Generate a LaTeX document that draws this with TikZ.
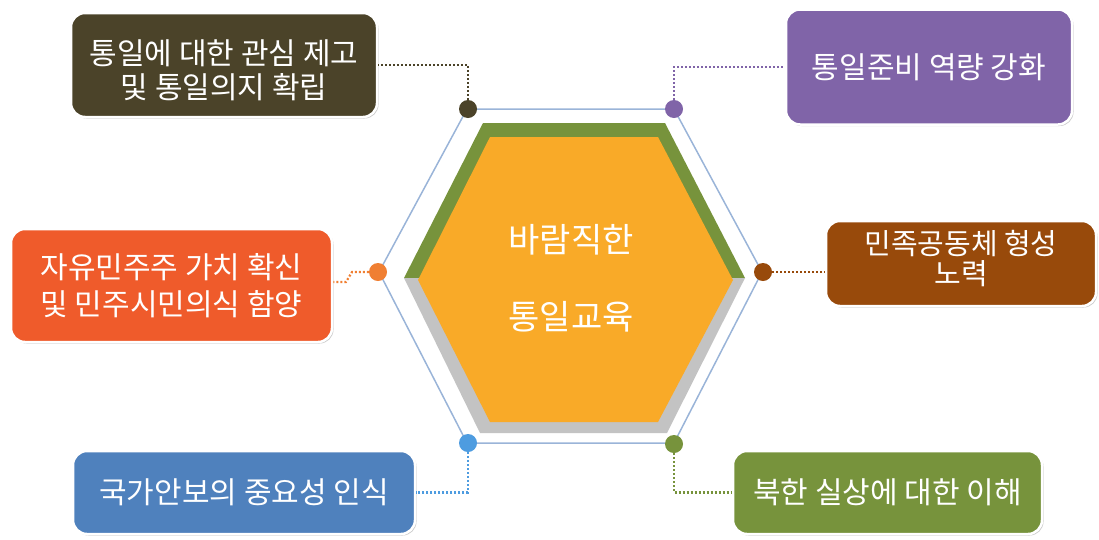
\documentclass[tikz,border=0pt]{standalone}
\usepackage{fontspec}
\setmainfont{Noto Sans CJK KR}
\usetikzlibrary{shadows}
\definecolor{cOlive}{HTML}{4B4329}
\definecolor{cPurple}{HTML}{8064A8}
\definecolor{cRed}{HTML}{EF5B2B}
\definecolor{cBrown}{HTML}{984A0B}
\definecolor{cBlue}{HTML}{4F81BD}
\definecolor{cGreen}{HTML}{77933C}
\definecolor{cDotOrange}{HTML}{F07F32}
\definecolor{cDotBlue}{HTML}{4E9CE0}
\definecolor{cHexLine}{HTML}{9AB4D8}
\definecolor{cHexOrange}{HTML}{F9AA28}
\definecolor{cHexGray}{HTML}{C3C3C3}
\tikzset{
  box/.style={rectangle, rounded corners=14pt, draw=white, line width=2.5pt,
    text=white, align=center, inner sep=0pt, font=\fontsize{30}{33}\selectfont,
    drop shadow={shadow xshift=1.5pt, shadow yshift=-1.5pt, opacity=0.35, fill=black!60}},
  boxtext/.style={text=white, align=center, inner sep=0pt, font=\fontsize{30}{33}\selectfont},
  dotnode/.style={circle, inner sep=0pt, minimum size=18pt},
  conn/.style={line width=2.2pt, dash pattern=on 2pt off 2pt},
  hextext/.style={text=white, font=\fontsize{34}{38}\selectfont}
}
\begin{document}
\begin{tikzpicture}[x=1pt,y=-1pt]
\useasboundingbox (0,0) rectangle (1099,539);

% outer thin hexagon
\draw[cHexLine, line width=1.5pt] (467,109) -- (674,109) -- (762,272) -- (674,443) -- (467,443) -- (379,272) -- cycle;
% frame halves
\fill[cGreen] (483,123) -- (665,123) -- (745,278) -- (404,278) -- cycle;
\fill[cHexGray] (404,278) -- (745,278) -- (667,433) -- (480,433) -- cycle;
% orange core
\fill[cHexOrange] (490,137) -- (658,137) -- (733,280) -- (658,422) -- (490,422) -- (418,280) -- cycle;
\node[hextext] (t1) at (571,240) {바람직한};
\node[hextext] (t2) at (571,317) {통일교육};

% boxes
\node[box, fill=cOlive, minimum width=306pt, minimum height=104pt] (b1) at (224,65) {};
\node[boxtext, font=\fontsize{30}{34}\selectfont] (b1t) at (224,70) {통일에 대한 관심 제고\\및 통일의지 확립};
\node[box, fill=cPurple, minimum width=286pt, minimum height=115pt] (b2) at (929,67) {통일준비 역량 강화};
\node[box, fill=cRed, minimum width=321pt, minimum height=113pt, font=\fontsize{30}{37}\selectfont] (b3) at (171.5,285.5) {자유민주주 가치 확신\\및 민주시민의식 함양};
\node[box, fill=cBrown, minimum width=270pt, minimum height=85pt] (b4) at (961,263.5) {};
\node[boxtext, font=\fontsize{29}{30}\selectfont] (b4t) at (961,259) {민족공동체 형성\\노력};
\node[box, fill=cBlue, minimum width=342pt, minimum height=83pt] (b5) at (244,492.5) {국가안보의 중요성 인식};
\node[box, fill=cGreen, minimum width=309pt, minimum height=83pt] (b6) at (887.5,492.5) {북한 실상에 대한 이해};

% dots
\node[dotnode, fill=cOlive] (d1) at (468,109) {};
\node[dotnode, fill=cPurple] (d2) at (674,109) {};
\node[dotnode, fill=cDotOrange] (d3) at (378,272) {};
\node[dotnode, fill=cBrown] (d4) at (763,272) {};
\node[dotnode, fill=cDotBlue] (d5) at (468,443) {};
\node[dotnode, fill=cGreen] (d6) at (674,444) {};

% connectors
\coordinate (k3a) at (352,272);
\coordinate (k3b) at (346,282);
\draw[conn, cOlive] (d1.north) |- (b1.east);
\draw[conn, cPurple] (d2.north) |- (b2.west);
\draw[conn, cDotOrange] (d3.west) -- (k3a) -- (k3b) -- (k3b -| b3.east);
\draw[conn, cBrown] (d4.east) -- (d4 -| b4.west);
\draw[conn, cDotBlue] (d5.south) |- (b5.east);
\draw[conn, cGreen] (d6.south) |- (b6.west);
\end{tikzpicture}
\end{document}
